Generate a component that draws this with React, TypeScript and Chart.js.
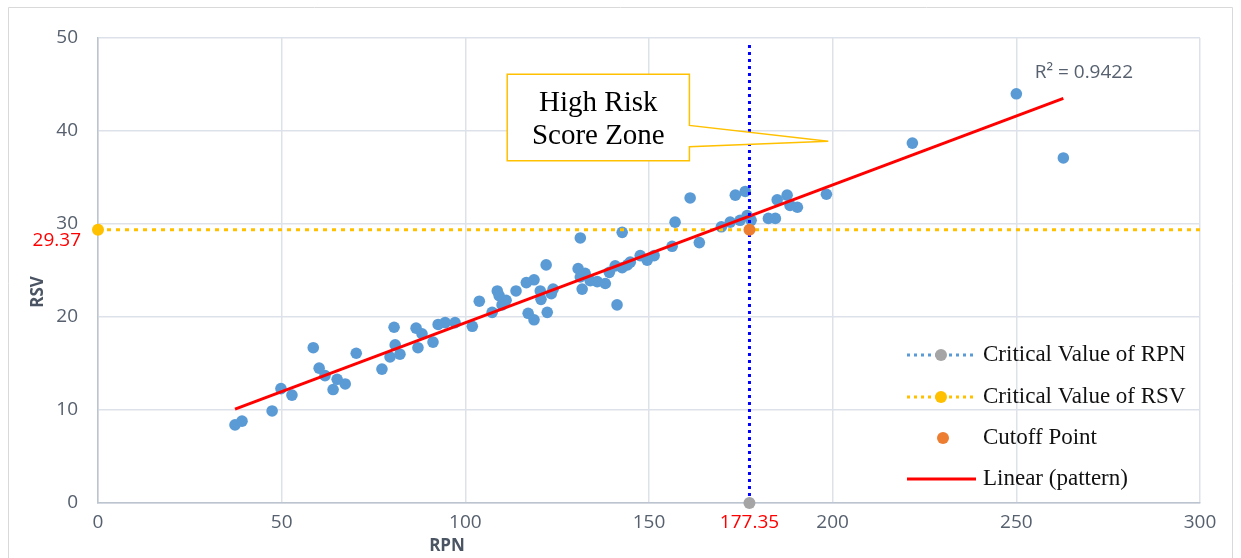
import React, { useEffect, useRef } from 'react';
import { Chart, registerables } from 'chart.js';

Chart.register(...registerables);

// ---- data ----
const rpnValues = [
  37.3, 39.2, 47.4, 49.8, 52.8, 58.6, 60.2, 61.8, 64.0, 65.1, 67.3, 70.3, 77.3, 79.5, 80.6, 80.9, 82.2,
  86.6, 87.1, 88.2, 91.2, 92.6, 94.5, 97.2, 101.9, 103.8, 107.3, 108.7, 109.2, 110.0, 111.1, 113.8,
  116.6, 117.1, 118.7, 118.7, 120.4, 120.6, 122.0, 122.3, 123.4, 123.9, 130.7, 131.3, 131.3, 131.8,
  132.6, 134.0, 135.9, 138.1, 139.2, 140.8, 141.3, 142.7, 142.7, 144.1, 144.9, 147.6, 149.5, 151.4,
  156.3, 157.1, 161.2, 163.7, 169.7, 172.1, 173.5, 174.8, 176.2, 176.7, 177.8, 182.5, 184.4, 184.9,
  187.6, 188.4, 190.4, 198.3, 221.7, 250.0, 262.8,
];
const rsvValues = [
  8.4, 8.8, 9.9, 12.3, 11.6, 16.7, 14.5, 13.7, 12.2, 13.3, 12.8, 16.1, 14.4, 15.7, 18.9, 17.0, 16.0,
  18.8, 16.7, 18.2, 17.3, 19.2, 19.4, 19.4, 19.0, 21.7, 20.5, 22.8, 22.3, 21.3, 21.8, 22.8,
  23.7, 20.4, 24.0, 19.7, 22.8, 21.9, 25.6, 20.5, 22.5, 23.0, 25.2, 28.5, 24.3, 23.0,
  24.7, 23.9, 23.8, 23.6, 24.8, 25.5, 21.3, 29.1, 25.3, 25.6, 25.9, 26.6, 26.1, 26.6,
  27.6, 30.2, 32.8, 28.0, 29.7, 30.2, 33.1, 30.4, 33.5, 30.9, 30.4, 30.6, 30.6, 32.6,
  33.1, 32.0, 31.8, 33.2, 38.7, 44.0, 37.1,
];
const xTicks = [0, 50, 100, 150, 200, 250, 300];
const yTicks = [0, 10, 20, 30, 40, 50];
const criticalRPN = 177.35;
const criticalRSV = 29.37;
const criticalLineTop = 49.4;
const trendX = [37.3, 262.8];
const trendY = [10.1, 43.5];
const r2Label = 'R² = 0.9422';
const r2Pos = [255, 46.3];
const legendLabels = ['Critical Value of RPN', 'Critical Value of RSV', 'Cutoff Point', 'Linear (pattern)'];
const calloutLines = ['High Risk', 'Score Zone'];
// callout box in data units: [xLeft, xRight, yTop, yBottom], tip [x, y], base y on right edge
const calloutBox = [111.4, 161.0, 46.1, 36.8];
const calloutTip = [198.8, 38.9];
const calloutBase = [40.6, 38.3];

const SANS = '"Open Sans", "Liberation Sans", sans-serif';
const SERIF = '"Liberation Serif", "DejaVu Serif", serif';
const GREY = '#56606e';

const overlay = {
  id: 'overlay',
  afterDraw(chart: any) {
    const ctx = chart.ctx as CanvasRenderingContext2D;
    const xs = chart.scales.x;
    const ys = chart.scales.y;
    const ca = chart.chartArea;
    ctx.save();

    // outer frame
    ctx.strokeStyle = '#d9d9d9';
    ctx.lineWidth = 1;
    ctx.beginPath();
    ctx.moveTo(8.5, 600);
    ctx.lineTo(8.5, 7.5);
    ctx.lineTo(1232.5, 7.5);
    ctx.lineTo(1232.5, 600);
    ctx.stroke();

    // red critical labels
    ctx.fillStyle = '#ff0000';
    ctx.font = `19px ${SANS}`;
    ctx.textAlign = 'right';
    ctx.textBaseline = 'middle';
    ctx.fillText(criticalRSV.toFixed(2), ca.left - 17, ys.getPixelForValue(criticalRSV) + 11);
    ctx.textAlign = 'center';
    ctx.fillText(criticalRPN.toFixed(2), xs.getPixelForValue(criticalRPN), ca.bottom + 20);

    // axis titles
    ctx.fillStyle = '#4a5463';
    ctx.font = `bold 17px ${SANS}`;
    ctx.textAlign = 'center';
    ctx.textBaseline = 'middle';
    ctx.fillText('RPN', 447, ca.bottom + 43);
    ctx.save();
    ctx.translate(38, 292);
    ctx.rotate(-Math.PI / 2);
    ctx.fillText('RSV', 0, 0);
    ctx.restore();

    // R² label
    ctx.font = `19px ${SANS}`;
    ctx.fillStyle = GREY;
    ctx.textAlign = 'left';
    ctx.fillText(r2Label, xs.getPixelForValue(r2Pos[0]), ys.getPixelForValue(r2Pos[1]));

    // callout
    const L = xs.getPixelForValue(calloutBox[0]);
    const R = xs.getPixelForValue(calloutBox[1]);
    const T = ys.getPixelForValue(calloutBox[2]);
    const B = ys.getPixelForValue(calloutBox[3]);
    const tx = xs.getPixelForValue(calloutTip[0]);
    const ty = ys.getPixelForValue(calloutTip[1]);
    const b1 = ys.getPixelForValue(calloutBase[0]);
    const b2 = ys.getPixelForValue(calloutBase[1]);
    ctx.beginPath();
    ctx.moveTo(L, T);
    ctx.lineTo(R, T);
    ctx.lineTo(R, b1);
    ctx.lineTo(tx, ty);
    ctx.lineTo(R, b2);
    ctx.lineTo(R, B);
    ctx.lineTo(L, B);
    ctx.closePath();
    ctx.fillStyle = '#ffffff';
    ctx.fill();
    ctx.strokeStyle = '#ffc000';
    ctx.lineWidth = 1.5;
    ctx.stroke();
    ctx.fillStyle = '#000000';
    ctx.font = `29px ${SERIF}`;
    ctx.textAlign = 'center';
    ctx.textBaseline = 'middle';
    const cx = (L + R) / 2;
    ctx.fillText(calloutLines[0], cx, T + 29);
    ctx.fillText(calloutLines[1], cx, T + 62);

    // legend
    const lx0 = 907, lx1 = 974, tx0 = 983;
    const rows = [355, 397, 438, 479];
    ctx.lineWidth = 3;
    ctx.setLineDash([3, 4]);
    ctx.strokeStyle = '#5b9bd5';
    ctx.beginPath(); ctx.moveTo(lx0, rows[0]); ctx.lineTo(lx1, rows[0]); ctx.stroke();
    ctx.strokeStyle = '#ffc000';
    ctx.beginPath(); ctx.moveTo(lx0, rows[1]); ctx.lineTo(lx1, rows[1]); ctx.stroke();
    ctx.setLineDash([]);
    ctx.strokeStyle = '#ff0000';
    ctx.beginPath(); ctx.moveTo(lx0, rows[3]); ctx.lineTo(lx1 + 2, rows[3]); ctx.stroke();
    const dot = (x: number, y: number, c: string) => {
      ctx.beginPath(); ctx.arc(x, y, 6, 0, Math.PI * 2); ctx.fillStyle = c; ctx.fill();
    };
    dot(941, rows[0], '#a5a5a5');
    dot(941, rows[1], '#ffc000');
    dot(943, rows[2], '#ed7d31');
    ctx.fillStyle = '#111111';
    ctx.font = `23px ${SERIF}`;
    ctx.textAlign = 'left';
    ctx.textBaseline = 'middle';
    legendLabels.forEach((t, i) => ctx.fillText(t, tx0, rows[i]));

    ctx.restore();
  },
};

export default function App() {
  const ref = useRef<HTMLCanvasElement>(null);
  useEffect(() => {
    if (!ref.current) return;
    const scatterData = rpnValues.map((x, i) => ({ x, y: rsvValues[i] }));
    const chart = new Chart(ref.current, {
      type: 'scatter',
      data: {
        datasets: [
          {
            label: 'pattern',
            data: scatterData,
            backgroundColor: '#5b9bd5',
            borderColor: '#5b9bd5',
            borderWidth: 0,
            pointRadius: 5.8,
            order: 6,
          },
          {
            label: 'Critical Value of RSV',
            data: [{ x: 0, y: criticalRSV }, { x: 300, y: criticalRSV }],
            showLine: true,
            borderColor: '#ffc000',
            borderWidth: 3,
            borderDash: [4, 5],
            pointRadius: [6, 0],
            pointBackgroundColor: '#ffc000',
            pointBorderWidth: 0,
            clip: false,
            order: 5,
          },
          {
            label: 'Linear (pattern)',
            data: trendX.map((x, i) => ({ x, y: trendY[i] })),
            showLine: true,
            borderColor: '#ff0000',
            borderWidth: 3,
            pointRadius: 0,
            order: 4,
          },
          {
            label: 'Critical Value of RPN',
            data: [{ x: criticalRPN, y: 0 }, { x: criticalRPN, y: criticalLineTop }],
            showLine: true,
            borderColor: '#0000ff',
            borderWidth: 3,
            borderDash: [3, 4],
            pointRadius: [6, 0],
            pointBackgroundColor: '#a5a5a5',
            pointBorderWidth: 0,
            clip: false,
            order: 3,
          },
          {
            label: 'Cutoff Point',
            data: [{ x: criticalRPN, y: criticalRSV }],
            backgroundColor: '#ed7d31',
            pointRadius: 6,
            borderWidth: 0,
            order: 2,
          },
        ],
      },
      options: {
        animation: false,
        responsive: false,
        events: [],
        layout: { padding: { left: 8, top: 38, right: 41, bottom: 0 } },
        plugins: { legend: { display: false }, tooltip: { enabled: false } },
        scales: {
          x: {
            type: 'linear',
            min: 0,
            max: 300,
            afterBuildTicks: (ax: any) => { ax.ticks = xTicks.map((v) => ({ value: v })); },
            afterFit: (s: any) => { s.height = 55; },
            grid: { color: '#dde2ea', drawTicks: false, lineWidth: 1.5 },
            border: { color: '#bcc4d0', width: 1.5 },
            ticks: { color: GREY, font: { family: SANS, size: 19 }, padding: 8 },
          },
          y: {
            type: 'linear',
            min: 0,
            max: 50,
            afterBuildTicks: (ax: any) => { ax.ticks = yTicks.map((v) => ({ value: v })); },
            afterFit: (s: any) => { s.width = 90; },
            grid: { color: '#dde2ea', drawTicks: false, lineWidth: 1.5 },
            border: { color: '#bcc4d0', width: 1.5 },
            ticks: { color: GREY, font: { family: SANS, size: 19 }, padding: 20 },
          },
        },
      } as any,
      plugins: [overlay],
    });
    return () => chart.destroy();
  }, []);
  return (
    <div style={{ position: 'fixed', left: 0, top: 0, width: 1241, height: 558, background: '#fff' }}>
      <canvas ref={ref} width={1241} height={558} style={{ display: 'block' }} />
    </div>
  );
}
